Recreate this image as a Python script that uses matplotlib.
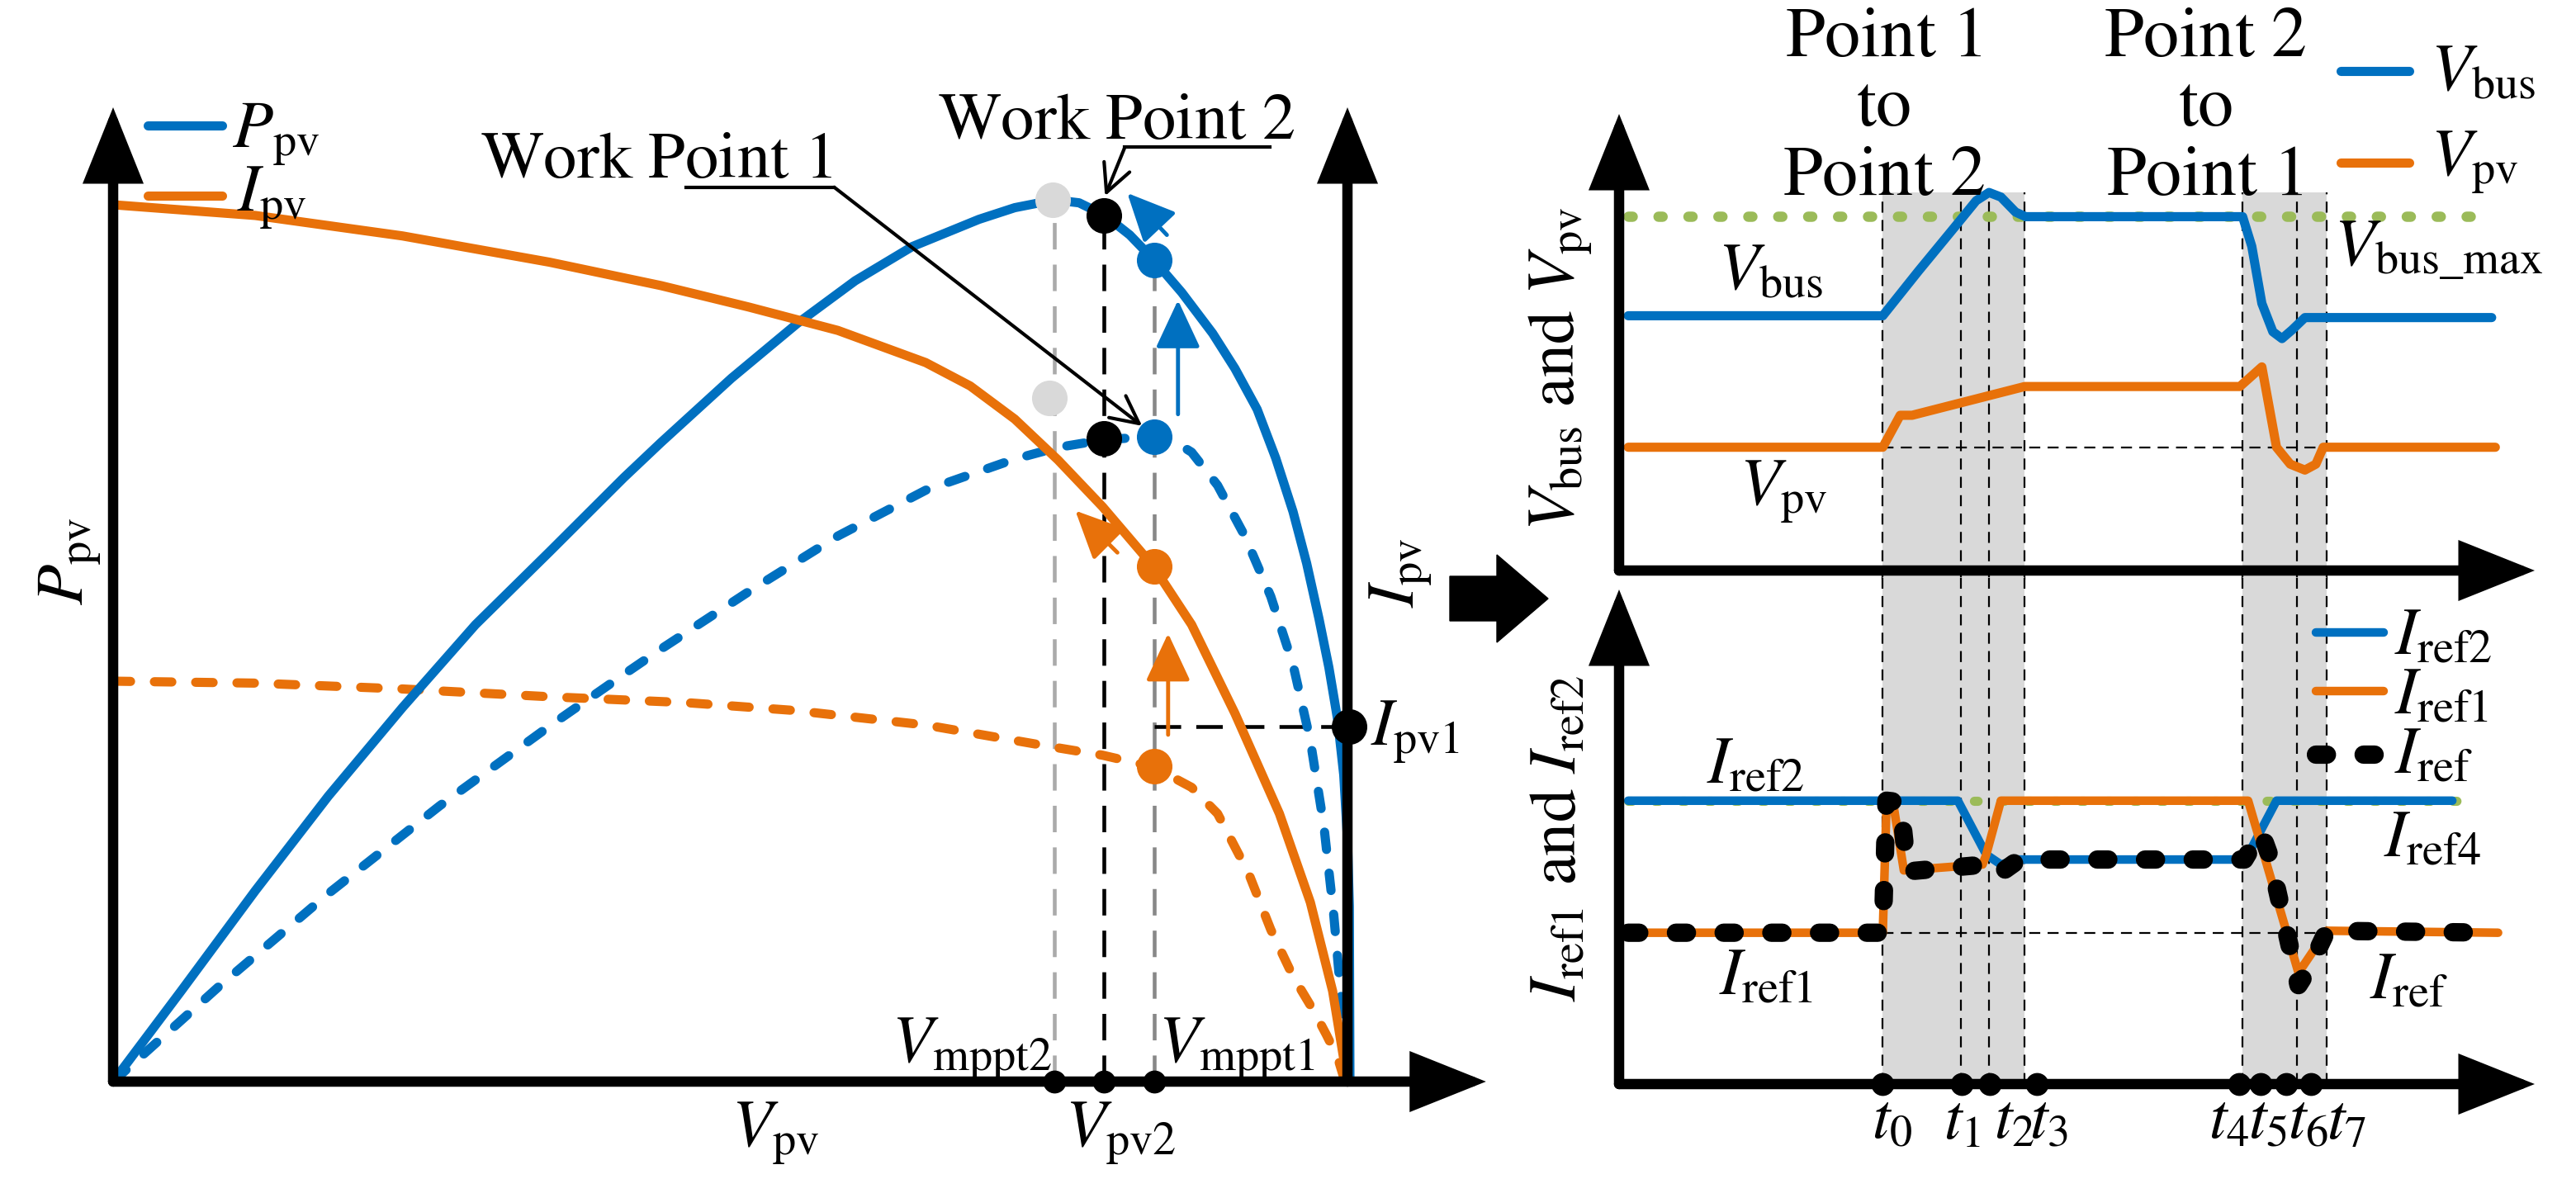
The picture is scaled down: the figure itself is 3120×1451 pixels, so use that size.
import matplotlib
matplotlib.use('Agg')
import matplotlib.pyplot as plt
import matplotlib.transforms as mtransforms
from matplotlib.patches import Polygon

plt.rcParams['font.family'] = ['STIXGeneral', 'DejaVu Serif']
plt.rcParams['mathtext.fontset'] = 'stix'

W, H = 3120, 1451
BLUE = '#0070C0'
ORANGE = '#E8710A'
GREEN = '#9BBB59'
SHADE = '#D9D9D9'
FS = 58

# ---- left panel: PV curves, voltage normalised to Voc
v_p1 = [0, 0.055, 0.115, 0.174, 0.234, 0.293, 0.353, 0.413, 0.443, 0.500, 0.553,
        0.600, 0.646, 0.700, 0.729, 0.761, 0.781, 0.802, 0.822, 0.841, 0.864, 0.889,
        0.907, 0.925, 0.940, 0.954, 0.965, 0.975, 0.983, 0.990, 0.995, 0.998, 0.9995, 1.0]
p1 = [0, 0.093, 0.196, 0.293, 0.384, 0.469, 0.544, 0.620, 0.656, 0.722, 0.778,
      0.822, 0.857, 0.885, 0.897, 0.905, 0.902, 0.889, 0.869, 0.844, 0.810, 0.768,
      0.732, 0.690, 0.640, 0.585, 0.532, 0.475, 0.425, 0.372, 0.315, 0.250, 0.180, 0.0]

v_p2 = [0, 0.085, 0.174, 0.264, 0.353, 0.413, 0.443, 0.514, 0.586, 0.657, 0.729,
        0.764, 0.802, 0.841, 0.858, 0.872, 0.893, 0.915, 0.936, 0.954, 0.968, 0.979,
        0.987, 0.993, 0.997]
p2 = [0, 0.097, 0.193, 0.283, 0.365, 0.418, 0.444, 0.503, 0.560, 0.607, 0.639,
      0.651, 0.659, 0.662, 0.657, 0.646, 0.612, 0.560, 0.498, 0.428, 0.350, 0.262,
      0.170, 0.085, 0.0]

v_i1 = [0, 0.115, 0.234, 0.353, 0.443, 0.514, 0.586, 0.657, 0.693, 0.729, 0.764,
        0.800, 0.841, 0.872, 0.907, 0.943, 0.968, 0.986, 0.998]
i1 = [0.900, 0.889, 0.868, 0.841, 0.817, 0.795, 0.771, 0.738, 0.714, 0.680, 0.638,
      0.590, 0.529, 0.469, 0.378, 0.275, 0.184, 0.093, 0.0]

v_i2 = [0, 0.115, 0.234, 0.353, 0.463, 0.550, 0.657, 0.757, 0.800, 0.841, 0.872,
        0.893, 0.918, 0.936, 0.954, 0.971, 0.981, 0.990, 0.996]
i2 = [0.411, 0.409, 0.403, 0.395, 0.389, 0.381, 0.366, 0.344, 0.335, 0.323, 0.302,
      0.275, 0.214, 0.156, 0.108, 0.072, 0.048, 0.025, 0.0]

v_mppt2, v_pv2, v_mppt1 = 0.761, 0.801, 0.842
i_pv1 = 0.364
gray_dots_y = [0.905, 0.702]
work_dots_y = [0.889, 0.660]
blue_dots_y = [0.843, 0.662]
orange_dots_y = [0.529, 0.324]

# ---- right panels: time normalised to the axis length
t_ticks = [0.288, 0.374, 0.405, 0.456, 0.677, 0.701, 0.729, 0.756]
t_lines = [0.288, 0.373, 0.404, 0.443, 0.681, 0.740, 0.773]
t_shade = [(0.288, 0.443), (0.681, 0.773)]
t_names = ['t_0', 't_1', 't_2', 't_3', 't_4', 't_5', 't_6', 't_7']
t_label_x = [0.276, 0.354, 0.409, 0.448, 0.644, 0.687, 0.730, 0.773]

t_vbus = [0.010, 0.288, 0.327, 0.366, 0.390, 0.404, 0.417, 0.433, 0.444, 0.681,
          0.691, 0.702, 0.714, 0.724, 0.735, 0.749, 0.953]
vbus = [0.558, 0.558, 0.656, 0.751, 0.810, 0.828, 0.818, 0.785, 0.775, 0.775,
        0.710, 0.585, 0.523, 0.508, 0.527, 0.554, 0.554]
t_vpv = [0.010, 0.288, 0.307, 0.320, 0.443, 0.678, 0.702, 0.718, 0.733, 0.749,
         0.761, 0.769, 0.957]
vpv = [0.270, 0.270, 0.340, 0.340, 0.403, 0.403, 0.446, 0.270, 0.233, 0.220,
       0.233, 0.270, 0.270]
t_vmax = [0.010, 0.944]
vbus_max = [0.776, 0.776]

t_iref2 = [0.010, 0.370, 0.401, 0.417, 0.437, 0.683, 0.687, 0.718, 0.910]
iref2 = [0.573, 0.573, 0.464, 0.444, 0.454, 0.454, 0.464, 0.573, 0.573]
t_iref1 = [0.010, 0.288, 0.292, 0.300, 0.311, 0.397, 0.401, 0.417, 0.687, 0.703,
           0.742, 0.773, 0.960]
iref1 = [0.306, 0.306, 0.560, 0.560, 0.432, 0.444, 0.464, 0.573, 0.573, 0.472,
         0.225, 0.310, 0.306]
t_iref = [0.010, 0.288, 0.292, 0.307, 0.315, 0.401, 0.415, 0.437, 0.683, 0.701,
          0.710, 0.742, 0.753, 0.773, 0.960]
iref = [0.306, 0.306, 0.573, 0.570, 0.430, 0.444, 0.425, 0.454, 0.454, 0.510,
        0.464, 0.200, 0.232, 0.310, 0.306]
t_iref4 = [0.010, 0.925]
iref4 = [0.573, 0.573]

fig = plt.figure(figsize=(W / 100, H / 100), dpi=100)
pix = mtransforms.Affine2D().scale(1 / W, -1 / H).translate(0, 1) + fig.transFigure


def px_axes(x0, y0, x1, y1):
    ax = fig.add_axes([x0 / W, 1 - y1 / H, (x1 - x0) / W, (y1 - y0) / H])
    ax.set_xlim(0, 1)
    ax.set_ylim(0, 1)
    ax.axis('off')
    return ax


def axis_arrow(ax, start, end):
    ax.annotate('', xy=end, xytext=start,
                arrowprops=dict(arrowstyle='-|>,head_length=0.5,head_width=0.2',
                                mutation_scale=100, lw=9, color='k',
                                shrinkA=0, shrinkB=0, joinstyle='miter'),
                annotation_clip=False, zorder=6)


def thin_arrow(ax, start, end, color):
    ax.annotate('', xy=end, xytext=start,
                arrowprops=dict(arrowstyle='-|>,head_length=0.9,head_width=0.42',
                                mutation_scale=40, lw=3.5, color=color,
                                shrinkA=0, shrinkB=0),
                annotation_clip=False, zorder=7)


def txt(ax, x, y, s, **kw):
    kw.setdefault('fontsize', FS)
    kw.setdefault('va', 'baseline')
    ax.text(x, y, s, clip_on=False, **kw)


dash = (0, (1.9, 2.6))

# ================= left panel
axL = px_axes(137, 130, 1635, 1310)
axL.plot(v_i2, i2, color=ORANGE, lw=8, ls=dash, dash_capstyle='round', clip_on=False, zorder=2)
axL.plot(v_p2, p2, color=BLUE, lw=8, ls=dash, dash_capstyle='round', clip_on=False, zorder=2)
axL.plot(v_p1, p1, color=BLUE, lw=8, solid_capstyle='round', clip_on=False, zorder=3)
axL.plot(v_i1, i1, color=ORANGE, lw=8, solid_capstyle='round', clip_on=False, zorder=3)

axL.plot([v_mppt2, v_mppt2], [0, gray_dots_y[0]], color='#AAAAAA', lw=3.3, ls=(0, (7, 4)), zorder=1)
axL.plot([v_pv2, v_pv2], [0, work_dots_y[0]], color='k', lw=3.3, ls=(0, (7, 4)), zorder=1)
axL.plot([v_mppt1, v_mppt1], [0, blue_dots_y[0]], color='#888888', lw=3.3, ls=(0, (7, 4)), zorder=1)
axL.plot([v_mppt1, 0.999], [i_pv1, i_pv1], color='k', lw=3.3, ls=(0, (7, 4)), zorder=1)

axL.plot([v_mppt2 - 0.001, v_mppt2 - 0.004], gray_dots_y, 'o', ms=30, color='#D9D9D9', zorder=4)
axL.plot([v_pv2, v_pv2], work_dots_y, 'o', ms=30, color='k', zorder=5)
axL.plot([v_mppt1, v_mppt1], blue_dots_y, 'o', ms=30, color=BLUE, zorder=5)
axL.plot([v_mppt1, v_mppt1], orange_dots_y, 'o', ms=30, color=ORANGE, zorder=5)
axL.plot([0.999], [i_pv1], 'o', ms=30, color='k', clip_on=False, zorder=7)
axL.plot([v_mppt2, v_pv2, v_mppt1], [0, 0, 0], 'o', ms=19, color='k', clip_on=False, zorder=7)

axis_arrow(axL, (0, 0), (1.11, 0))
axis_arrow(axL, (0, 0), (0, 1.0))
axis_arrow(axL, (0.998, 0), (0.998, 1.0))

thin_arrow(axL, (0.861, 0.685), (0.861, 0.802), BLUE)
thin_arrow(axL, (0.853, 0.356), (0.853, 0.460), ORANGE)
thin_arrow(axL, (0.852, 0.869), (0.820, 0.912), BLUE)
thin_arrow(axL, (0.812, 0.543), (0.778, 0.586), ORANGE)

# work point leaders
axL.plot([0.463, 0.583], [0.918, 0.918], color='k', lw=3, clip_on=False)
axL.annotate('', xy=(0.832, 0.673), xytext=(0.583, 0.918),
             arrowprops=dict(arrowstyle='->,head_length=0.6,head_width=0.3', mutation_scale=40,
                             lw=3, color='k', shrinkA=0, shrinkB=0), zorder=8)
axL.plot([0.818, 0.935], [0.959, 0.959], color='k', lw=3, clip_on=False)
axL.annotate('', xy=(0.802, 0.909), xytext=(0.818, 0.959),
             arrowprops=dict(arrowstyle='->,head_length=0.6,head_width=0.3', mutation_scale=40,
                             lw=3, color='k', shrinkA=0, shrinkB=0), zorder=8)
txt(axL, 0.297, 0.928, r'$\mathrm{Work\ Point\ 1}$')
txt(axL, 0.667, 0.968, r'$\mathrm{Work\ Point\ 2}$')

# legend of left panel
axL.plot([0.028, 0.088], [0.981, 0.981], color=BLUE, lw=8, solid_capstyle='round', clip_on=False)
axL.plot([0.028, 0.088], [0.909, 0.909], color=ORANGE, lw=8, solid_capstyle='round', clip_on=False)
txt(axL, 0.096, 0.959, r'$P_{\rm pv}$')
txt(axL, 0.100, 0.894, r'$I_{\rm pv}$')

txt(axL, -0.035, 0.534, r'$P_{\rm pv}$', rotation=90, ha='center', va='center')
txt(axL, 1.041, 0.522, r'$I_{\rm pv}$', rotation=90, ha='center', va='center')
txt(axL, 1.017, 0.346, r'$I_{\rm pv1}$')
txt(axL, 0.50, -0.066, r'$V_{\rm pv}$')
txt(axL, 0.759, 0.020, r'$V_{\rm mppt2}$', ha='right')
txt(axL, 0.845, 0.020, r'$V_{\rm mppt1}$')
txt(axL, 0.770, -0.066, r'$V_{\rm pv2}$')

# block arrow between panels
fig.patches.append(Polygon([(1756, 698), (1813, 698), (1813, 672), (1875, 725),
                            (1813, 778), (1813, 752), (1756, 752)],
                           closed=True, color='k', transform=pix))

# ================= top right: voltages
axT = px_axes(1961, 138, 3070, 691)
for a, b in t_shade:
    axT.axvspan(a, b, ymin=-0.02, ymax=0.828, color=SHADE, lw=0, clip_on=False, zorder=0)
for t in t_lines:
    axT.plot([t, t], [-0.02, 0.828], color='k', lw=1.6, ls=(0, (6, 4)), clip_on=False, zorder=1)
axT.plot([t_lines[0], t_lines[-1]], [vpv[0], vpv[0]], color='k', lw=1.6, ls=(0, (6, 4)), zorder=1)
axT.plot(t_vmax, vbus_max, color=GREEN, lw=9, ls=(0, (0.4, 2.5)), dash_capstyle='round', zorder=2)
axT.plot(t_vbus, vbus, color=BLUE, lw=8, solid_capstyle='round', zorder=3)
axT.plot(t_vpv, vpv, color=ORANGE, lw=8, solid_capstyle='round', zorder=3)
axis_arrow(axT, (0, 0), (1, 0))
axis_arrow(axT, (0, 0), (0, 1))

txt(axT, 0.289, 1.011, '$\\mathrm{Point\\ 1}$\n$\\mathrm{to}$\n$\\mathrm{Point\\ 2}$',
    ha='center', va='center', fontsize=62, linespacing=1.1, multialignment='center')
txt(axT, 0.640, 1.011, '$\\mathrm{Point\\ 2}$\n$\\mathrm{to}$\n$\\mathrm{Point\\ 1}$',
    ha='center', va='center', fontsize=62, linespacing=1.1, multialignment='center')

axT.plot([0.788, 0.863], [1.094, 1.094], color=BLUE, lw=8, solid_capstyle='round', clip_on=False)
axT.plot([0.788, 0.863], [0.894, 0.894], color=ORANGE, lw=8, solid_capstyle='round', clip_on=False)
txt(axT, 0.886, 1.051, r'$V_{\rm bus}$')
txt(axT, 0.886, 0.866, r'$V_{\rm pv}$')
txt(axT, 0.108, 0.615, r'$V_{\rm bus}$')
txt(axT, 0.132, 0.145, r'$V_{\rm pv}$')
txt(axT, 0.781, 0.669, r'$V_{\rm bus\_max}$')
txt(axT, -0.064, 0.441, r'$V_{\rm bus}\ \mathrm{and}\ V_{\rm pv}$', rotation=90, ha='center', va='center')

# ================= bottom right: current references
axB = px_axes(1961, 714, 3070, 1313)
for a, b in t_shade:
    axB.axvspan(a, b, ymin=0, ymax=1.025, color=SHADE, lw=0, clip_on=False, zorder=0)
for t in t_lines:
    axB.plot([t, t], [0, 1.025], color='k', lw=1.6, ls=(0, (6, 4)), clip_on=False, zorder=1)
axB.plot([t_lines[0], t_lines[-1]], [iref1[0], iref1[0]], color='k', lw=1.6, ls=(0, (6, 4)), zorder=1)
axB.plot(t_iref4, iref4, color=GREEN, lw=8, ls=(0, (0.4, 2.5)), dash_capstyle='round', zorder=2)
axB.plot(t_iref2, iref2, color=BLUE, lw=7.5, solid_capstyle='round', zorder=3)
axB.plot(t_iref1, iref1, color=ORANGE, lw=7.5, solid_capstyle='round', zorder=4)
axB.plot(t_iref, iref, color='k', lw=16, ls=(0, (0.6, 2.0)), dash_capstyle='round', zorder=5)
axis_arrow(axB, (0, 0), (1, 0))
axis_arrow(axB, (0, 0), (0, 1))
axB.plot(t_ticks, [0] * len(t_ticks), 'o', ms=19, color='k', clip_on=False, zorder=7)
for x, s in zip(t_label_x, t_names):
    txt(axB, x, -0.109, '$' + s + '$', fontsize=56)

axB.plot([0.761, 0.835], [0.914, 0.914], color=BLUE, lw=7.5, solid_capstyle='round', clip_on=False)
axB.plot([0.761, 0.835], [0.794, 0.794], color=ORANGE, lw=7.5, solid_capstyle='round', clip_on=False)
axB.plot([0.761, 0.835], [0.666, 0.666], color='k', lw=16, ls=(0, (0.6, 2.0)),
         dash_capstyle='round', clip_on=False)
txt(axB, 0.847, 0.868, r'$I_{\rm ref2}$')
txt(axB, 0.847, 0.748, r'$I_{\rm ref1}$')
txt(axB, 0.847, 0.628, r'$I_{\rm ref}$')
txt(axB, 0.096, 0.608, r'$I_{\rm ref2}$')
txt(axB, 0.109, 0.180, r'$I_{\rm ref1}$')
txt(axB, 0.835, 0.460, r'$I_{\rm ref4}$')
txt(axB, 0.820, 0.172, r'$I_{\rm ref}$')
txt(axB, -0.064, 0.497, r'$I_{\rm ref1}\ \mathrm{and}\ I_{\rm ref2}$', rotation=90, ha='center', va='center')

fig.savefig('out.png', dpi=100, facecolor='white')
